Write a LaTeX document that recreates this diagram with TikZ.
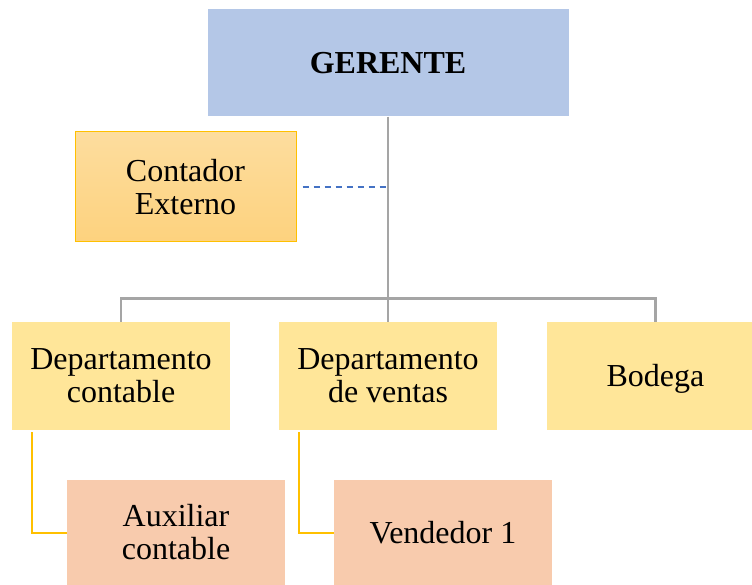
\documentclass[tikz,border=0pt]{standalone}
\usepackage{fontspec}
\setmainfont{Liberation Serif}
\definecolor{gerblue}{HTML}{B4C7E7}
\definecolor{ctop}{HTML}{FDDD9E}
\definecolor{cbot}{HTML}{FDD27E}
\definecolor{cborder}{HTML}{FFC000}
\definecolor{deptyel}{HTML}{FFE699}
\definecolor{subpeach}{HTML}{F8CBAD}
\definecolor{linegray}{HTML}{A5A5A5}
\definecolor{dashblue}{HTML}{4472C4}
\tikzset{
  box/.style={rectangle, inner sep=0pt, align=center, font=\fontsize{32}{33}\selectfont},
  topbox/.style={box, fill=gerblue, minimum width=361pt, minimum height=107pt},
  extbox/.style={box, top color=ctop, bottom color=cbot, draw=cborder, line width=1pt, minimum width=221pt, minimum height=110pt},
  deptbox/.style={box, fill=deptyel, minimum width=218pt, minimum height=108pt},
  subbox/.style={box, fill=subpeach, minimum width=218pt, minimum height=106pt},
  grayline/.style={draw=linegray, line width=2.2pt},
  yelline/.style={draw=cborder, line width=2pt},
  dashline/.style={draw=dashblue, line width=1.5pt, dash pattern=on 6pt off 5pt}
}
\begin{document}
\begin{tikzpicture}[x=1pt,y=-1pt]
\useasboundingbox (0,0) rectangle (752,585);
\node[topbox] (ger) at (388,63) {\textbf{GERENTE}};
\node[extbox] (ext) at (185.5,187) {Contador\\Externo};
\node[deptbox] (dc) at (121,376) {Departamento\\contable};
\node[deptbox] (dv) at (388,376) {Departamento\\de ventas};
\node[deptbox] (bod) at (655.5,376) {\raisebox{-10pt}[0pt][0pt]{Bodega}};
\node[subbox] (aux) at (176,532.5) {Auxiliar\\contable};
\node[subbox] (ven) at (443,532.5) {Vendedor 1};
\coordinate (bus) at (388,298.5);
\coordinate (mid) at (388,187);
\draw[grayline] (ger.south) -- (bus);
\draw[grayline] (dc.north) -- (dc.north |- bus) -- (bod.north |- bus) -- (bod.north);
\draw[grayline] (bus) -- (dv.north);
\draw[dashline] ([xshift=6pt]ext.east) -- (mid);
\draw[yelline] (32,432) |- (aux.west);
\draw[yelline] (299,432) |- (ven.west);
\end{tikzpicture}
\end{document}
